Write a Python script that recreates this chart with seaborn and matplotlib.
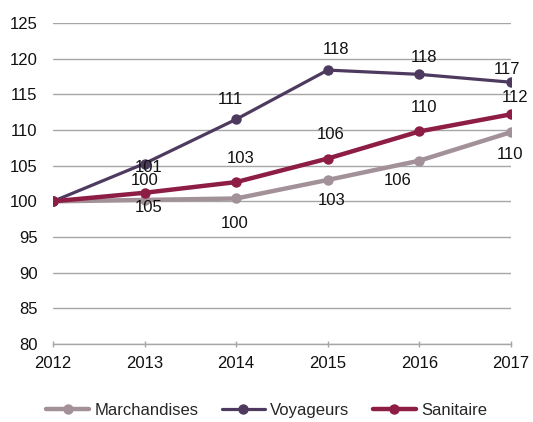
import numpy as np
import pandas as pd
import matplotlib
matplotlib.use("Agg")
import matplotlib.pyplot as plt
import seaborn as sns

annees = [2012, 2013, 2014, 2015, 2016, 2017]
marchandises = [100, 100.2, 100.4, 103.0, 105.7, 109.7]
voyageurs = [100, 105.3, 111.5, 118.4, 117.8, 116.7]
sanitaire = [100, 101.2, 102.7, 106.0, 109.8, 112.2]

# texte des etiquettes, tel qu'affiche sur le graphique
etiq_marchandises = ["", "100", "100", "103", "106", "110"]
etiq_voyageurs = ["", "105", "111", "118", "118", "117"]
etiq_sanitaire = ["", "101", "103", "106", "110", "112"]

# decalages des etiquettes (points)
dec_marchandises = [(0, 0), (0, 14), (-1, -18), (3, -15), (-16, -14), (-1, -16)]
dec_voyageurs = [(0, 0), (3, -32), (-4, 14), (6, 15), (3, 12), (-3, 9)]
dec_sanitaire = [(0, 0), (3, 18), (3, 17), (2, 17), (3, 17), (3, 12)]

series = {
    "Marchandises": (marchandises, etiq_marchandises, dec_marchandises, "#A39199", 3.2),
    "Voyageurs": (voyageurs, etiq_voyageurs, dec_voyageurs, "#4E3A5E", 2.3),
    "Sanitaire": (sanitaire, etiq_sanitaire, dec_sanitaire, "#8E1D45", 3.2),
}

sns.set_theme(style="white")
plt.rcParams['font.family'] = ['Liberation Sans', 'DejaVu Sans']

fig = plt.figure(figsize=(5.33, 4.22), dpi=100)
ax = fig.add_axes([0.0994, 0.1848, 0.8593, 0.7607])

for nom, (vals, etiqs, decs, couleur, lw) in series.items():
    df = pd.DataFrame({"annee": annees, "valeur": vals})
    sns.lineplot(data=df, x="annee", y="valeur", ax=ax, color=couleur, linewidth=lw,
                 marker="o", markersize=11, markeredgewidth=0, label=nom, zorder=3)
    for x, y, t, d in zip(annees, vals, etiqs, decs):
        if t:
            ax.annotate(t, (x, y), xytext=d, textcoords="offset points",
                        ha="center", va="center", fontsize=12, color="#111111", zorder=4)

ax.set_xlim(2012, 2017)
ax.set_ylim(80, 125)
ax.set_yticks(np.arange(80, 126, 5))
ax.set_xticks(annees)
ax.set_xlabel("")
ax.set_ylabel("")
ax.grid(axis="y", color="#A6A6A6", linewidth=1)
ax.grid(axis="x", visible=False)
for s in ["left", "right", "top"]:
    ax.spines[s].set_visible(False)
ax.spines["bottom"].set_color("#A6A6A6")
ax.spines["bottom"].set_linewidth(1)
ax.tick_params(axis="y", length=0, pad=11, labelsize=12, labelcolor="#111111")
ax.tick_params(axis="x", direction="inout", length=5, width=1, color="#A6A6A6",
               pad=6, labelsize=12, labelcolor="#111111", bottom=True)

ax.get_legend().remove()
h, l = ax.get_legend_handles_labels()
for hh in h:
    hh.set_markersize(7.5)
fig.legend(h, l, loc="lower center", bbox_to_anchor=(0.5, -0.025), ncol=3, frameon=False,
           fontsize=12, handlelength=2.6, handletextpad=0.3, columnspacing=1.4)

fig.savefig("out.png", dpi=100)
